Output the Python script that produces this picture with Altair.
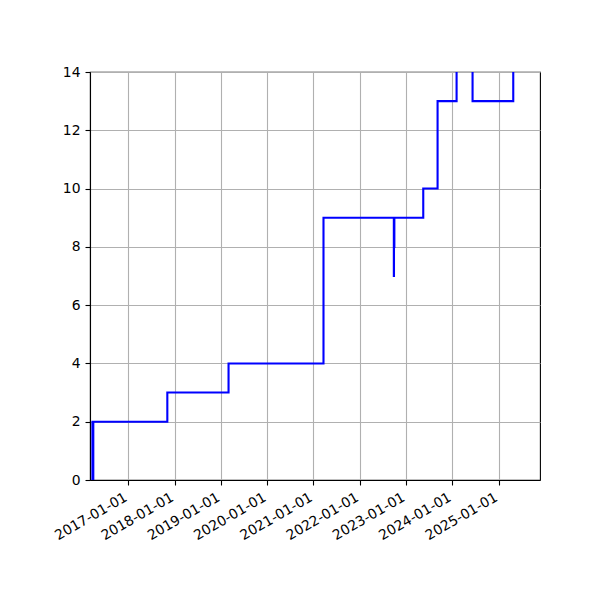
import altair as alt
import pandas as pd

dates = ["2016-03-23", "2016-03-24", "2016-03-30", "2016-03-31",
         "2017-11-05", "2019-03-03", "2021-03-21",
         "2022-09-27", "2022-09-28", "2022-09-30", "2022-10-01",
         "2023-05-17", "2023-09-07", "2024-02-04", "2024-06-09",
         "2025-04-26", "2025-11-23"]
values = [0, 2, 0, 2,
          3, 4, 9,
          7, 9, 8, 9,
          10, 13, 16, 13,
          16, 16]

year_ticks = [2017, 2018, 2019, 2020, 2021, 2022, 2023, 2024, 2025]
y_ticks = [0, 2, 4, 6, 8, 10, 12, 14]

df = pd.DataFrame({"date": dates, "value": values})

font = "DejaVu Sans"

chart = alt.Chart(df).mark_line(
    interpolate="step-after", color="#0000ff", strokeWidth=2.1, clip=True
).encode(
    x=alt.X(
        "date:T",
        scale=alt.Scale(
            type="utc",
            domain=[alt.DateTime(year=2016, month=3, date=5, utc=True),
                    alt.DateTime(year=2025, month=11, date=23, utc=True)],
        ),
        axis=alt.Axis(
            title=None,
            values=[alt.DateTime(year=y, month=1, date=1, utc=True) for y in year_ticks],
            labelExpr="utcFormat(datum.value, '%Y-%m-%d')",
            labelAngle=-30,
            labelAlign="right",
            labelBaseline="top",
            labelPadding=5,
            labelOffset=-6,
            labelOverlap=False,
            labelBound=False,
            labelFlush=False,
        ),
    ),
    y=alt.Y(
        "value:Q",
        scale=alt.Scale(domain=[0, 14], nice=False, zero=False),
        axis=alt.Axis(title=None, values=y_ticks, labelPadding=5),
    ),
).properties(
    width=450,
    height=408,
    autosize=alt.AutoSizeParams(type="none"),
    padding={"left": 82, "top": 64, "right": 50, "bottom": 100},
).configure_view(
    stroke="black", strokeWidth=1.1
).configure_axis(
    grid=True,
    gridColor="#b0b0b0",
    gridWidth=1.1,
    domainColor="black",
    domainWidth=1.1,
    tickColor="black",
    tickWidth=1.1,
    tickSize=5,
    labelFont=font,
    labelFontSize=13.9,
    labelColor="black",
)

chart.save("out.html", embed_options={"renderer": "svg", "actions": False})
